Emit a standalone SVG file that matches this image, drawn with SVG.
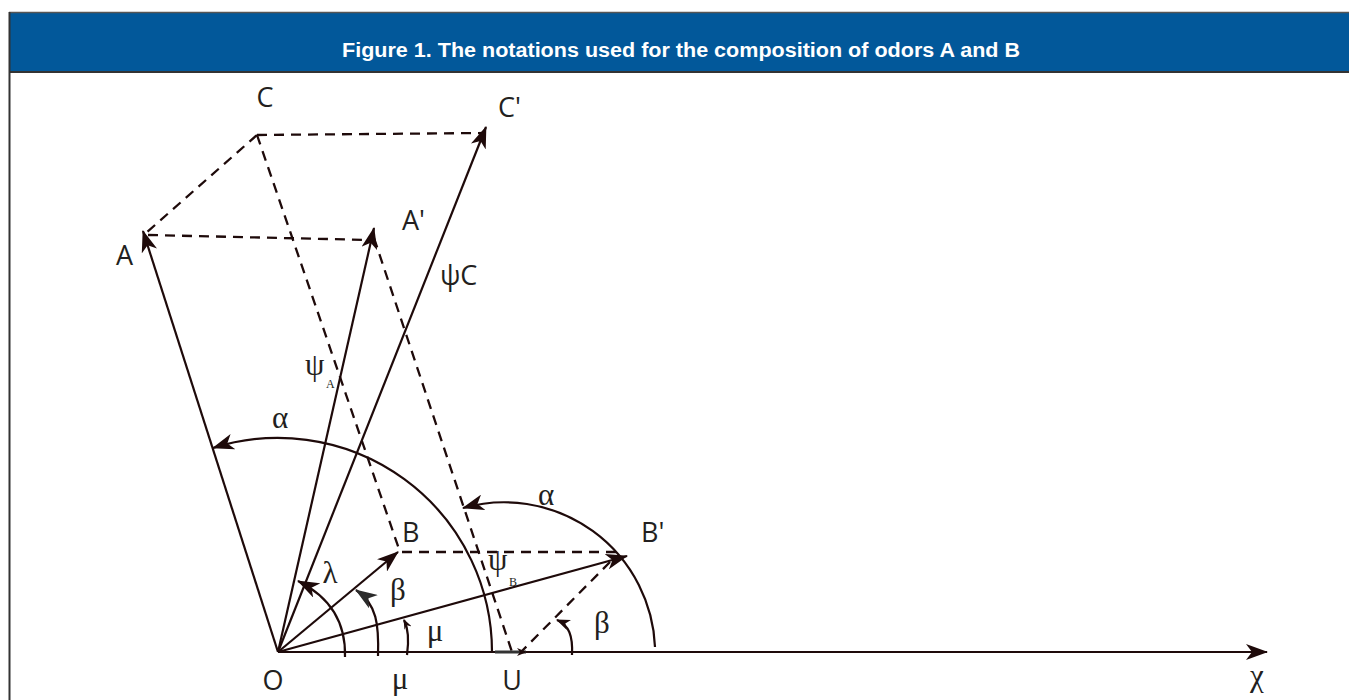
<svg xmlns="http://www.w3.org/2000/svg" width="1349" height="700" viewBox="0 0 1349 700">
<defs>
<style>
.ln{fill:none;stroke:#1e0a0a;stroke-width:2.2}
.ds{fill:none;stroke:#1e0a0a;stroke-width:2.3;stroke-dasharray:10 7}
.sans{font-family:"Open Sans","Liberation Sans",sans-serif;font-size:27px;fill:#231f20}
.gr{font-family:"Liberation Serif","DejaVu Serif",serif;font-size:31px;fill:#231f20}
.sub{font-family:"Liberation Serif","DejaVu Serif",serif;font-size:12px;fill:#231f20}
</style>
<marker id="ah" viewBox="0 0 22 16" markerWidth="22" markerHeight="16" refX="21" refY="8" orient="auto" markerUnits="userSpaceOnUse">
<path d="M0,0 L22,8 L0,16 L6,8 z" fill="#1e0a0a"/>
</marker>
<marker id="am" viewBox="0 0 14 11" markerWidth="14" markerHeight="11" refX="13" refY="5.5" orient="auto" markerUnits="userSpaceOnUse">
<path d="M0,0 L14,5.5 L0,11 L4,5.5 z" fill="#1e0a0a"/>
</marker>
<marker id="as" viewBox="0 0 10 8" markerWidth="10" markerHeight="8" refX="9" refY="4" orient="auto" markerUnits="userSpaceOnUse">
<path d="M0,0 L10,4 L0,8 L3,4 z" fill="#1e0a0a"/>
</marker>
<marker id="ag" viewBox="0 0 22 16" markerWidth="22" markerHeight="16" refX="21" refY="8" orient="auto" markerUnits="userSpaceOnUse">
<path d="M0,0 L22,8 L0,16 L6,8 z" fill="#2b2b2b"/>
</marker>
</defs>
<rect width="1349" height="700" fill="#ffffff"/>
<g id="frame">
<rect x="9" y="12" width="1340" height="60" fill="#02589a"/>
<line x1="9" y1="12.5" x2="1349" y2="12.5" stroke="#555" stroke-width="1.5"/>
<line x1="9" y1="72" x2="1349" y2="72" stroke="#333" stroke-width="2"/>
<line x1="9.5" y1="12" x2="9.5" y2="700" stroke="#333" stroke-width="2"/>
<text x="681" y="57" text-anchor="middle" font-family="Liberation Sans, Arial, sans-serif" font-weight="bold" font-size="19.5" fill="#ffffff" textLength="678" lengthAdjust="spacingAndGlyphs">Figure 1. The notations used for the composition of odors A and B</text>
</g>
<g id="connectors">
<path class="ds" d="M257,135 L484,133"/>
<path class="ds" d="M257,135 L146,233"/>
<path class="ds" d="M148,235 L372,240"/>
<path class="ds" d="M257,135 L400,552"/>
<path class="ds" d="M374,238 L512,652"/>
<path class="ds" d="M402,552 L622,552"/>
<path class="ds" d="M610,562 L521,652"/>
<line class="ln" x1="278" y1="652" x2="143" y2="231" marker-end="url(#ah)"/>
<line class="ln" x1="278" y1="652" x2="374" y2="228" marker-end="url(#ah)"/>
<line class="ln" x1="278" y1="652" x2="486" y2="127" marker-end="url(#ah)"/>
<line class="ln" x1="278" y1="652" x2="398" y2="552" marker-end="url(#ah)"/>
<line class="ln" x1="278" y1="652" x2="627" y2="556" marker-end="url(#ah)"/>
<line class="ln" x1="278" y1="652" x2="1267" y2="652" marker-end="url(#ah)"/>
<line x1="495" y1="652" x2="526" y2="652" stroke="#333" stroke-width="3" marker-end="url(#as)"/>
<path class="ln" d="M492,652 A214,214 0 0 0 213,448" marker-end="url(#ah)"/>
<path class="ln" d="M655,647 A151,151 0 0 0 463,508" marker-end="url(#ah)"/>
<path class="ln" d="M345,657 C346,622 330,597 298,581" marker-end="url(#ah)"/>
<path class="ln" d="M378,656 C379,625 377,604 356,590" marker-end="url(#ag)"/>
<path class="ln" d="M407,655 C409,641 409,630 404,620" marker-end="url(#as)"/>
<path class="ln" d="M572,655 C573,636 569,625 557,620" marker-end="url(#am)"/>
</g>
<g id="node-C"><text class="sans" x="265" y="107" text-anchor="middle">C</text></g>
<g id="node-Cp"><text class="sans" x="498" y="117">C'</text></g>
<g id="node-Ap"><text class="sans" x="402" y="230">A'</text></g>
<g id="node-psiC"><text class="sans" x="440" y="285">ψC</text></g>
<g id="node-A"><text class="sans" x="116" y="265">A</text></g>
<g id="node-psiA"><text class="gr" x="305" y="375" font-size="28">ψ</text><text class="sub" x="326" y="388">A</text></g>
<g id="node-alpha1"><text class="gr" x="280" y="428" text-anchor="middle" font-size="33">α</text></g>
<g id="node-alpha2"><text class="gr" x="546" y="505" text-anchor="middle" font-size="33">α</text></g>
<g id="node-B"><text class="sans" x="402" y="542">B</text></g>
<g id="node-Bp"><text class="sans" x="641" y="542">B'</text></g>
<g id="node-psiB"><text class="gr" x="488" y="570" font-size="28">ψ</text><text class="sub" x="509" y="586">B</text></g>
<g id="node-lambda"><text class="gr" x="330" y="583" text-anchor="middle" font-size="26">λ</text></g>
<g id="node-beta1"><text class="gr" x="398" y="600" text-anchor="middle" font-size="32">β</text></g>
<g id="node-mu1"><text class="gr" x="435" y="641" text-anchor="middle" font-size="30">μ</text></g>
<g id="node-beta2"><text class="gr" x="602" y="633" text-anchor="middle" font-size="30">β</text></g>
<g id="node-O"><text class="sans" x="273" y="690" text-anchor="middle">O</text></g>
<g id="node-mu2"><text class="gr" x="400" y="689" text-anchor="middle" font-size="30">μ</text></g>
<g id="node-U"><text class="sans" x="512" y="690" text-anchor="middle">U</text></g>
<g id="node-chi"><text class="gr" x="1257" y="686" text-anchor="middle" font-size="30">χ</text></g>
</svg>
